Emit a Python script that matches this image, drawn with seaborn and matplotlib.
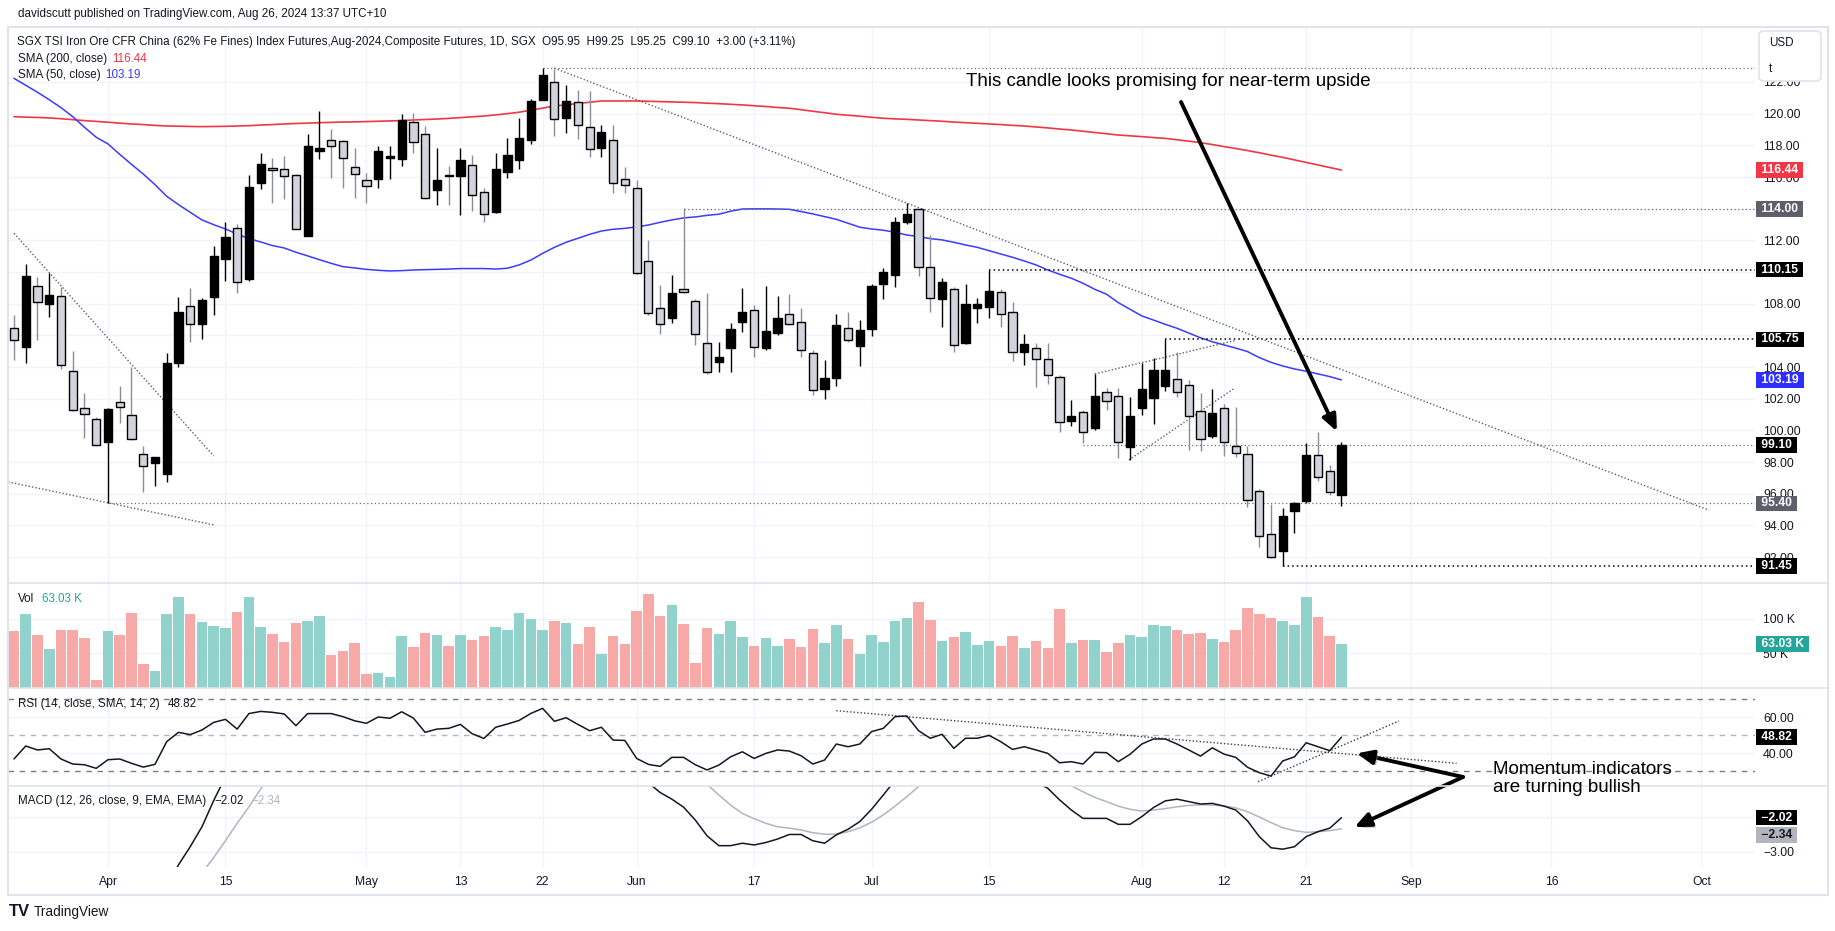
import numpy as np
import pandas as pd
import matplotlib
matplotlib.use("Agg")
import matplotlib.pyplot as plt
import matplotlib.patheffects as pe
from matplotlib.patches import FancyBboxPatch, Rectangle
from matplotlib.lines import Line2D
from matplotlib.transforms import IdentityTransform, blended_transform_factory
import seaborn as sns

sns.set_theme(style="white")
plt.rcParams['font.family'] = ['Liberation Sans', 'DejaVu Sans']

# ---------------- data ----------------
dates = pd.bdate_range("2024-03-20", "2024-08-26")   # 114 daily sessions

opens = [106.45, 105.29, 109.12, 107.97, 108.47, 103.76, 101.40, 100.72, 99.29, 101.78,
         100.98, 98.52, 97.97, 97.23, 104.24, 107.86, 106.70, 108.41, 110.81, 112.76,
         109.58, 115.65, 116.57, 116.49, 116.11, 112.30, 117.62, 118.32, 118.25, 116.62,
         115.84, 115.86, 117.18, 117.12, 119.46, 118.70, 115.16, 116.10, 116.09, 116.74,
         115.04, 113.79, 116.34, 117.10, 118.36, 120.89, 121.98, 119.75, 120.72, 119.14,
         117.81, 118.36, 115.86, 115.29, 110.68, 107.71, 107.08, 108.91, 108.20, 105.50,
         104.30, 105.19, 106.87, 107.63, 105.19, 106.13, 107.33, 106.87, 104.87, 102.62,
         103.29, 106.45, 105.36, 106.39, 109.23, 109.82, 113.14, 113.96, 110.34, 108.28,
         108.91, 105.50, 107.71, 107.77, 108.76, 107.46, 104.93, 105.23, 104.49, 103.36,
         100.62, 101.15, 100.18, 102.41, 102.20, 98.98, 101.40, 102.07, 102.83, 103.23,
         102.85, 101.23, 99.65, 101.40, 99.02, 98.50, 96.16, 93.45, 92.41, 94.94,
         95.57, 98.45, 97.42, 95.95]
highs = [107.29, 110.49, 109.71, 109.92, 109.08, 105.02, 102.35, 100.87, 101.40, 102.81,
         104.03, 99.02, 98.33, 104.87, 108.43, 108.97, 108.34, 111.65, 113.16, 113.04,
         116.11, 117.50, 117.22, 117.33, 116.20, 118.70, 120.17, 119.03, 118.34, 117.86,
         116.24, 117.96, 117.96, 119.96, 120.02, 119.22, 117.86, 116.70, 117.86, 117.39,
         115.29, 117.50, 118.49, 119.71, 120.95, 122.86, 122.80, 121.81, 121.47, 121.45,
         119.27, 119.27, 116.66, 115.82, 112.03, 109.18, 109.82, 114.03, 108.28, 108.66,
         105.61, 106.81, 108.97, 107.90, 109.12, 108.49, 108.60, 107.71, 105.08, 104.45,
         107.33, 107.50, 106.97, 109.23, 110.24, 113.50, 114.34, 114.00, 112.34, 109.65,
         109.05, 109.23, 108.34, 110.13, 108.91, 108.13, 106.09, 105.54, 105.54, 103.50,
         101.93, 101.29, 103.57, 102.66, 102.66, 102.10, 104.24, 104.56, 105.76, 104.98,
         103.19, 102.35, 102.60, 101.67, 101.46, 99.02, 96.31, 95.36, 95.09, 95.50,
         99.19, 99.93, 97.82, 99.25]
lows = [104.45, 104.24, 105.71, 107.18, 103.86, 101.20, 99.50, 99.00, 95.42, 100.45,
        99.40, 96.14, 96.52, 96.77, 103.99, 105.61, 105.76, 107.29, 109.46, 108.66,
        109.46, 115.22, 114.38, 114.59, 112.70, 112.25, 117.12, 115.96, 115.33, 114.70,
        114.38, 115.33, 115.86, 116.72, 117.54, 114.60, 114.24, 114.24, 113.60, 113.86,
        113.18, 113.70, 115.92, 116.53, 118.07, 120.85, 118.61, 118.76, 118.40, 117.29,
        117.29, 115.02, 115.02, 109.85, 107.30, 106.07, 106.77, 108.65, 105.40, 103.54,
        103.67, 103.67, 106.24, 104.62, 105.10, 106.05, 106.65, 104.62, 102.24, 101.99,
        102.83, 105.61, 104.09, 105.97, 108.28, 109.08, 113.04, 109.75, 107.50, 106.55,
        104.98, 105.45, 106.81, 107.08, 106.55, 104.41, 104.13, 102.77, 102.91, 99.88,
        100.30, 99.19, 100.00, 101.30, 98.24, 98.14, 100.98, 100.39, 102.49, 102.14,
        98.77, 98.73, 99.51, 98.41, 98.31, 95.19, 92.67, 91.95, 91.45, 93.51,
        95.40, 96.83, 95.93, 95.25]
closes = [105.71, 109.75, 108.09, 108.53, 104.12, 101.27, 101.02, 99.06, 101.36, 101.50,
          99.46, 97.76, 98.33, 104.24, 107.46, 106.70, 108.22, 111.02, 112.19, 109.35,
          115.37, 116.82, 116.42, 116.05, 112.74, 117.96, 117.83, 117.94, 117.18, 116.17,
          115.44, 117.64, 117.33, 119.60, 118.19, 114.66, 115.79, 116.05, 117.06, 114.85,
          113.65, 116.49, 117.37, 118.47, 120.80, 122.44, 119.64, 120.80, 119.27, 117.77,
          118.82, 115.60, 115.50, 109.92, 107.40, 106.72, 108.66, 108.72, 106.09, 103.71,
          104.62, 106.39, 107.46, 105.29, 106.26, 107.08, 106.72, 105.08, 102.56, 103.29,
          106.66, 105.71, 106.34, 109.12, 109.99, 113.18, 113.67, 110.34, 108.34, 109.40,
          105.40, 107.96, 107.96, 108.83, 107.35, 104.93, 105.46, 104.49, 103.50, 100.56,
          100.92, 99.89, 102.18, 101.86, 99.25, 100.92, 102.60, 103.82, 103.82, 102.41,
          100.90, 99.44, 101.09, 99.25, 98.56, 95.61, 93.34, 92.00, 94.60, 95.45,
          98.45, 97.09, 96.10, 99.10]
volume_k = [82.1, 106.8, 76.3, 56.0, 83.6, 83.6, 71.9, 10.9, 82.1, 76.3,
            108.3, 34.2, 24.0, 106.8, 131.5, 106.8, 95.2, 89.4, 86.5, 109.7,
            131.5, 87.9, 77.8, 66.1, 93.8, 96.7, 103.9, 47.2, 53.1, 64.6,
            19.6, 21.1, 15.3, 74.8, 58.9, 79.2, 76.3, 60.4, 76.3, 69.0,
            74.8, 87.9, 83.6, 108.3, 99.6, 83.6, 96.7, 93.8, 63.2, 87.9,
            48.7, 74.8, 63.2, 111.2, 135.9, 103.9, 119.9, 92.3, 36.0, 86.5,
            77.8, 96.7, 73.4, 60.3, 71.9, 60.3, 70.5, 58.9, 85.0, 64.7,
            90.8, 70.5, 48.7, 76.3, 66.1, 96.7, 101.0, 124.3, 98.1, 67.6,
            73.4, 80.7, 61.8, 67.6, 60.3, 74.9, 57.4, 67.6, 57.4, 114.1,
            64.7, 69.0, 69.0, 51.6, 64.7, 76.3, 73.4, 90.8, 89.4, 83.6,
            77.8, 79.2, 70.5, 66.1, 83.6, 115.6, 106.8, 101.0, 96.7, 90.8,
            131.5, 102.5, 74.9, 63.03]
sma200 = [119.81, 119.78, 119.76, 119.73, 119.68, 119.62, 119.56, 119.51, 119.46, 119.40,
          119.35, 119.31, 119.26, 119.22, 119.21, 119.19, 119.18, 119.19, 119.20, 119.22,
          119.24, 119.28, 119.31, 119.35, 119.38, 119.40, 119.43, 119.45, 119.47, 119.48,
          119.50, 119.52, 119.54, 119.56, 119.60, 119.63, 119.66, 119.70, 119.75, 119.80,
          119.85, 119.92, 120.00, 120.09, 120.22, 120.35, 120.48, 120.56, 120.64, 120.72,
          120.80, 120.80, 120.80, 120.80, 120.78, 120.76, 120.74, 120.72, 120.70, 120.66,
          120.63, 120.59, 120.55, 120.50, 120.45, 120.39, 120.34, 120.25, 120.15, 120.06,
          119.96, 119.90, 119.84, 119.77, 119.71, 119.67, 119.64, 119.60, 119.56, 119.52,
          119.47, 119.43, 119.39, 119.35, 119.31, 119.26, 119.22, 119.16, 119.10, 119.03,
          118.97, 118.89, 118.81, 118.73, 118.65, 118.60, 118.55, 118.49, 118.44, 118.35,
          118.26, 118.17, 118.05, 117.92, 117.80, 117.67, 117.53, 117.38, 117.24, 117.08,
          116.92, 116.76, 116.60, 116.44]
sma50 = [122.23, 121.79, 121.35, 120.88, 120.38, 119.81, 119.14, 118.51, 118.09, 117.43,
         116.80, 116.19, 115.52, 114.78, 114.26, 113.77, 113.29, 112.99, 112.72, 112.40,
         112.11, 111.90, 111.67, 111.52, 111.25, 111.02, 110.78, 110.55, 110.34, 110.26,
         110.17, 110.11, 110.07, 110.09, 110.13, 110.15, 110.17, 110.19, 110.22, 110.22,
         110.22, 110.19, 110.24, 110.45, 110.76, 111.18, 111.56, 111.88, 112.13, 112.38,
         112.59, 112.70, 112.76, 112.85, 112.97, 113.14, 113.29, 113.42, 113.48, 113.58,
         113.65, 113.84, 113.98, 113.99, 113.99, 113.98, 113.96, 113.82, 113.67, 113.50,
         113.33, 113.08, 112.83, 112.72, 112.64, 112.51, 112.34, 112.24, 112.11, 112.03,
         111.88, 111.71, 111.56, 111.35, 111.14, 110.93, 110.70, 110.45, 110.13, 109.86,
         109.61, 109.29, 108.91, 108.60, 108.07, 107.65, 107.23, 106.97, 106.70, 106.45,
         106.15, 105.85, 105.60, 105.40, 105.20, 104.98, 104.60, 104.30, 104.07, 103.88,
         103.74, 103.57, 103.40, 103.19]
rsi = [36.7, 43.9, 41.7, 42.4, 36.7, 33.9, 33.5, 31.5, 36.3, 36.7,
       34.3, 32.2, 33.7, 46.3, 51.5, 50.2, 52.8, 57.0, 58.7, 53.3,
       61.9, 63.1, 62.6, 61.7, 55.2, 61.9, 61.9, 61.9, 60.2, 57.9,
       56.5, 60.0, 59.3, 62.9, 59.4, 51.5, 53.3, 53.7, 55.9, 50.7,
       48.1, 54.3, 56.1, 58.1, 62.0, 64.8, 57.6, 59.6, 55.9, 52.4,
       54.3, 47.2, 47.0, 37.0, 33.7, 32.6, 37.6, 37.6, 33.5, 30.6,
       33.3, 37.9, 40.7, 37.0, 39.8, 41.7, 41.1, 38.5, 33.9, 36.1,
       45.0, 43.5, 45.0, 51.9, 53.7, 60.2, 60.6, 52.4, 48.2, 50.4,
       42.6, 48.2, 48.2, 49.8, 46.3, 42.0, 43.5, 41.7, 39.8, 34.6,
       35.2, 33.9, 40.4, 40.2, 35.2, 39.3, 45.0, 47.8, 47.8, 45.0,
       41.7, 38.3, 42.9, 39.4, 37.6, 32.1, 29.1, 27.2, 35.6, 37.9,
       45.7, 43.5, 41.3, 48.82]
macd = [-4.2, -4.0, -4.0, -4.0, -4.2, -4.5, -4.7, -4.9, -4.8, -4.7,
        -4.7, -4.8, -4.7, -4.0, -3.37, -2.85, -2.28, -1.53, -0.85, -0.35,
        0.25, 0.8, 1.2, 1.5, 1.6, 1.85, 2.1, 2.25, 2.3, 2.3,
        2.2, 2.2, 2.2, 2.3, 2.3, 2.05, 1.9, 1.8, 1.75, 1.6,
        1.4, 1.4, 1.45, 1.55, 1.2, 1.4, 1.3, 1.25, 1.1, 0.9,
        0.75, 0.45, 0.1, -0.45, -1.02, -1.3, -1.49, -1.72, -2.09, -2.54,
        -2.82, -2.82, -2.75, -2.80, -2.73, -2.63, -2.50, -2.50, -2.68, -2.75,
        -2.51, -2.35, -2.13, -1.78, -1.37, -0.95, -0.6, -0.5, -0.5, -0.45,
        -0.55, -0.55, -0.55, -0.5, -0.55, -0.75, -0.85, -1.0, -1.18, -1.51,
        -1.80, -2.04, -2.04, -2.04, -2.21, -2.21, -1.99, -1.73, -1.54, -1.49,
        -1.56, -1.63, -1.61, -1.69, -1.80, -2.11, -2.56, -2.88, -2.92, -2.85,
        -2.56, -2.42, -2.32, -2.02]
signal = [-4.3, -4.25, -4.2, -4.15, -4.15, -4.2, -4.3, -4.4, -4.5, -4.55,
          -4.6, -4.6, -4.65, -4.5, -4.3, -4.0, -3.6, -3.16, -2.68, -2.18,
          -1.71, -1.2, -0.75, -0.3, 0.1, 0.45, 0.8, 1.05, 1.3, 1.5,
          1.65, 1.75, 1.85, 1.95, 2.0, 2.0, 1.95, 1.9, 1.85, 1.8,
          1.7, 1.6, 1.55, 1.5, 1.45, 1.45, 1.4, 1.4, 1.35, 1.3,
          1.2, 1.05, 0.85, 0.6, 0.3, 0.0, -0.3, -0.55, -0.8, -1.07,
          -1.37, -1.66, -1.90, -2.05, -2.18, -2.28, -2.32, -2.37, -2.45, -2.49,
          -2.49, -2.42, -2.31, -2.15, -1.94, -1.69, -1.42, -1.13, -0.9, -0.75,
          -0.65, -0.6, -0.58, -0.57, -0.57, -0.6, -0.65, -0.72, -0.85, -1.0,
          -1.11, -1.28, -1.44, -1.56, -1.69, -1.78, -1.83, -1.80, -1.76, -1.71,
          -1.67, -1.65, -1.66, -1.68, -1.74, -1.85, -2.0, -2.16, -2.31, -2.39,
          -2.44, -2.42, -2.39, -2.34]

tick_dates = ["2024-04-01", "2024-04-15", "2024-05-01", "2024-05-13", "2024-05-22",
              "2024-06-03", "2024-06-17", "2024-07-01", "2024-07-15", "2024-08-01",
              "2024-08-12", "2024-08-21", "2024-09-02", "2024-09-16", "2024-10-01"]
tick_labels = ["Apr", "15", "May", "13", "22", "Jun", "17", "Jul", "15", "Aug",
               "12", "21", "Sep", "16", "Oct"]

# price scale labels (the ones sitting fully under a value tag are not shown)
price_ticks = [92, 94, 96, 98, 100, 102, 104, 108, 112, 116, 118, 120, 122]

# horizontal levels drawn by the author
levels = [122.86, 114.00, 110.15, 105.75, 99.10, 95.40, 91.45]
level_from = ["2024-05-22", "2024-06-07", "2024-07-15", "2024-08-05",
              "2024-07-25", "2024-04-01", "2024-08-19"]
level_dark = [False, False, True, True, False, False, True]

# trend lines drawn by the author (session index, value)
price_trends = [((46.0, 122.87), (144.3, 94.96)),
                ((0.0, 112.45), (17.0, 98.39)),
                ((-0.5, 96.75), (17.0, 94.04)),
                ((92.0, 103.57), (103.9, 105.67)),
                ((94.9, 98.14), (103.9, 102.67))]
rsi_trends = [((70.0, 63.5), (122.8, 34.3)),
              ((105.9, 24.1), (117.9, 57.8))]

# ---------------- figure ----------------
W, H = 1835, 931
fig = plt.figure(figsize=(W / 100, H / 100), dpi=100)
fig.patch.set_facecolor("white")
TXT = "#131722"
GRID = "#f0f3fa"
FRAME = "#e0e3eb"
UI = 8.4


def pane(x0, y0, x1, y1):
    return fig.add_axes([x0 / W, 1 - y1 / H, (x1 - x0) / W, (y1 - y0) / H])


ax_p = pane(8, 27, 1755, 583)
ax_v = pane(8, 583, 1755, 688)
ax_r = pane(8, 688, 1755, 786)
ax_m = pane(8, 786, 1755, 867)

n = len(dates)
x = np.arange(n)
o, h, l, c = map(np.array, (opens, highs, lows, closes))
up = c >= o

last = dates[-1]
tick_pos = []
for d in pd.to_datetime(tick_dates):
    if d <= last:
        tick_pos.append(dates.get_loc(d))
    else:
        # future area is spaced by calendar day
        tick_pos.append(n - 1 + (d - last).days * 10 / 11.75)

XLIM = (-0.51, 148.2)


def style(ax, yticks, ylabels, ylim, grid_y=None):
    ax.set_xlim(*XLIM)
    ax.set_ylim(*ylim)
    for s in ax.spines.values():
        s.set_visible(False)
    ax.set_facecolor("white")
    ax.set_xticks(tick_pos)
    ax.set_xticklabels([])
    ax.yaxis.tick_right()
    ax.set_yticks(yticks)
    ax.set_yticklabels(ylabels)
    ax.tick_params(length=0, labelsize=8.7, labelcolor=TXT)
    ax.tick_params(axis="y", pad=5.8)
    ax.grid(True, axis="x", color=GRID, lw=1)
    for gy in (grid_y if grid_y is not None else yticks):
        ax.axhline(gy, color=GRID, lw=1, zorder=0)
    ax.set_axisbelow(True)
    ax.set_xlabel("")
    ax.set_ylabel("")


def tag(ax, y, text, fc, tc="white", dy=0):
    ax.annotate(text, xy=(1.0017, y),
                xycoords=blended_transform_factory(ax.transAxes, ax.transData),
                xytext=(0, dy), textcoords="offset pixels",
                ha="left", va="center", fontsize=8.7, fontweight="bold", color=tc,
                bbox=dict(boxstyle="square,pad=0.15", fc=fc, ec="none"),
                annotation_clip=False, zorder=20)


# ---- price pane ----
ax_p.vlines(x[up], l[up], h[up], color="black", lw=1, zorder=3)
ax_p.vlines(x[~up], l[~up], h[~up], color="#8a8d96", lw=1, zorder=3)
ax_p.bar(x, np.maximum(np.abs(c - o), 0.07), bottom=np.minimum(o, c), width=0.7,
         color=np.where(up, "black", "#d1d4dc"), edgecolor="black", lw=1, zorder=4)
sns.lineplot(x=x, y=sma200, ax=ax_p, color="#f23645", lw=1.2, zorder=2)
sns.lineplot(x=x, y=sma50, ax=ax_p, color="#3b3bff", lw=1.1, zorder=2)

for lv, start, dark in zip(levels, level_from, level_dark):
    i0 = dates.get_loc(pd.Timestamp(start))
    ax_p.hlines(lv, i0, XLIM[1], color="black" if dark else "#6a6d78",
                lw=1.1 if dark else 0.9, linestyles=(0, (1, 2)), zorder=2)
for (xa, ya), (xb, yb) in price_trends:
    ax_p.plot([xa, xb], [ya, yb], color="#5d606b", lw=1, ls=(0, (1, 1.5)), zorder=2)

style(ax_p, price_ticks, [f"{v:.2f}" for v in price_ticks], (90.37, 125.47),
      grid_y=np.arange(92, 123, 2))
tag(ax_p, sma200[-1], " 116.44 ", "#f23645")
tag(ax_p, 114.00, " 114.00 ", "#5d606b")
tag(ax_p, 110.15, " 110.15 ", "black")
tag(ax_p, 105.75, " 105.75 ", "black")
tag(ax_p, sma50[-1], " 103.19 ", "#2e2eff")
tag(ax_p, closes[-1], " 99.10 ", "black")
tag(ax_p, 95.40, " 95.40 ", "#5d606b")
tag(ax_p, 91.45, " 91.45 ", "black")

# ---- volume pane ----
ax_v.bar(x, volume_k, width=0.9, color=np.where(up, "#92d2cc", "#f7a9a7"), lw=0, zorder=3)
style(ax_v, [50, 100], ["50 K", "100 K"], (-0.7, 151.9))
tag(ax_v, volume_k[-1], " 63.03 K ", "#26a69a")

# ---- RSI pane ----
for lv, col in [(70, "#787b86"), (50, "#b2b5be"), (30, "#787b86")]:
    ax_r.axhline(lv, color=col, lw=1, ls=(0, (4, 4)), zorder=2)
sns.lineplot(x=x, y=rsi, ax=ax_r, color=TXT, lw=1.1, zorder=4)
for (xa, ya), (xb, yb) in rsi_trends:
    ax_r.plot([xa, xb], [ya, yb], color="#3a3d46", lw=1, ls=(0, (1, 1.5)), zorder=3)
style(ax_r, [40, 60], ["40.00", "60.00"], (21.7, 76.1))
tag(ax_r, rsi[-1], " 48.82 ", "black")

# ---- MACD pane ----
sns.lineplot(x=x, y=signal, ax=ax_m, color="#b2b5be", lw=1.1, zorder=3)
sns.lineplot(x=x, y=macd, ax=ax_m, color=TXT, lw=1.1, zorder=4)
style(ax_m, [-3], ["\u22123.00"], (-3.43, -1.114), grid_y=[-3, -2])
ax_m.set_xticklabels(tick_labels)
ax_m.tick_params(axis="x", pad=6.5, labelsize=8.7)
tag(ax_m, macd[-1], " \u22122.02 ", "black")
tag(ax_m, signal[-1], " \u22122.34 ", "#b2b5be", tc=TXT, dy=-6)


# ---------------- frame, labels and notes ----------------
def fpx(px, py):
    return px / W, 1 - py / H


fig.add_artist(Rectangle((8, H - 895), 1820, 868, transform=IdentityTransform(),
                         fill=False, ec=FRAME, lw=1.5, zorder=30))
for yy in (583, 688, 786):
    fig.add_artist(Line2D([8, 1828], [H - yy, H - yy], transform=IdentityTransform(),
                          color=FRAME, lw=1.2, zorder=30))


def label_row(px, py, parts, size=UI, gap=5):
    # the last axes is drawn on top of every pane, so chain the pieces there
    t = ax_m.annotate(parts[0][0], xy=fpx(px, py), xycoords="figure fraction",
                      color=parts[0][1], fontsize=size, va="center", ha="left",
                      annotation_clip=False, zorder=40)
    for s, col in parts[1:]:
        t = ax_m.annotate(s, xy=(1, 0.5), xycoords=t, xytext=(gap, 0),
                          textcoords="offset pixels", va="center", ha="left",
                          color=col, fontsize=size, annotation_clip=False, zorder=40)
    return t


fig.text(*fpx(18, 14), "davidscutt published on TradingView.com, Aug 26, 2024 13:37 UTC+10",
         fontsize=UI, color=TXT, va="center")
label_row(17, 42, [("SGX TSI Iron Ore CFR China (62% Fe Fines) Index Futures,Aug-2024,"
                    "Composite Futures, 1D, SGX  O95.95  H99.25  L95.25  C99.10  +3.00 (+3.11%)", TXT)])
label_row(18, 59, [("SMA (200, close)", TXT), ("116.44", "#f23645")])
label_row(18, 75, [("SMA (50, close)", TXT), ("103.19", "#3b3bff")])
label_row(18, 599, [("Vol", TXT), ("63.03 K", "#26a69a")], gap=8)
label_row(18, 704, [("RSI (14, close, SMA, 14, 2)", TXT), ("48.82", TXT)], gap=8)
label_row(18, 801, [("MACD (12, 26, close, 9, EMA, EMA)", TXT), ("\u22122.02", TXT),
                    ("\u22122.34", "#b2b5be")], gap=8)

# USD / t box on the price scale
fig.add_artist(FancyBboxPatch((1759, H - 81), 62, 50, boxstyle="round,pad=0,rounding_size=5",
                              transform=IdentityTransform(), fc="white", ec=FRAME, lw=1.2,
                              zorder=35))
fig.text(*fpx(1769, 43), "USD", fontsize=UI, color=TXT, va="center", zorder=36)
fig.text(*fpx(1769, 69), "t", fontsize=UI, color=TXT, va="center", zorder=36)

# logo
fig.text(*fpx(9, 912), "TV", fontsize=12, fontweight="heavy", color=TXT, va="center")
fig.text(*fpx(34, 912), "TradingView", fontsize=9.8, color=TXT, va="center")

# author notes
shadow = [pe.withSimplePatchShadow(offset=(2, -2), shadow_rgbFace="#8c8c8c", alpha=0.5)]
fig.text(*fpx(966, 82), "This candle looks promising for near-term upside",
         fontsize=13.5, color="black", va="center", zorder=40)
fig.text(*fpx(1493, 778.5), "Momentum indicators\nare turning bullish",
         fontsize=13.5, color="black", va="center", linespacing=1.15, zorder=40)

arrow_kw = dict(arrowstyle="-|>,head_length=0.8,head_width=0.35", color="black", lw=2.8,
                shrinkA=0, shrinkB=0, mutation_scale=12)
ax_p.annotate("", xy=(x[-1] - 0.4, highs[-1] + 0.7), xycoords="data",
              xytext=(1181, H - 102), textcoords="figure pixels",
              arrowprops=dict(**arrow_kw, path_effects=shadow), zorder=40)
ax_r.annotate("", xy=(114.3, 39.8), xycoords="data",
              xytext=(1463, H - 777), textcoords="figure pixels",
              arrowprops=dict(**arrow_kw, path_effects=shadow), zorder=40)
ax_m.annotate("", xy=(114.1, -2.29), xycoords="data",
              xytext=(1463, H - 777), textcoords="figure pixels",
              arrowprops=dict(**arrow_kw, path_effects=shadow), zorder=40)

fig.savefig("out.png", dpi=100, facecolor="white")
